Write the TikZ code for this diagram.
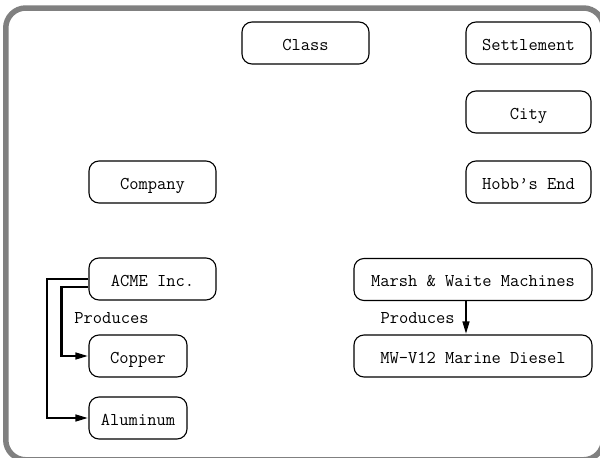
\documentclass[tikz,border=0pt]{standalone}
\usetikzlibrary{arrows.meta}
\begin{document}
\begin{tikzpicture}[x=1pt,y=-1pt,
  entity/.style={draw, line width=1.1pt, rounded corners=10pt, minimum height=42pt,
    inner sep=0pt, text height=14.8pt, text depth=0pt, font=\fontsize{18pt}{20pt}\ttfamily},
  link/.style={line width=2.6pt, -{Triangle[length=13pt,width=6.5pt]}},
  tag/.style={inner sep=0pt, font=\fontsize{18pt}{20pt}\ttfamily}]
\useasboundingbox (0,0) rectangle (600,458);
% outer frame, running past the right and lower edges of the page
\draw[gray, line width=5.5pt, rounded corners=20pt] (5.75,8) rectangle (603.5,459.8);
% entities
\node[entity, minimum width=127pt] (class)      at (305.5,43)  {Class};
\node[entity, minimum width=125pt] (settlement) at (528.5,43)  {Settlement};
\node[entity, minimum width=125pt] (city)       at (528.5,112) {City};
\node[entity, minimum width=125pt] (hobbs)      at (528.5,182) {Hobb\textquoteright s End};
\node[entity, minimum width=127pt] (company)    at (152.5,182) {Company};
\node[entity, minimum width=127pt] (acme)       at (152.5,279) {ACME Inc.};
\node[entity, minimum width=98pt]  (copper)     at (138,356)   {Copper};
\node[entity, minimum width=98pt]  (aluminum)   at (138,418)   {Aluminum};
\node[entity, minimum width=238pt] (marsh)      at (473,279.5) {Marsh \& Waite Machines};
\node[entity, minimum width=238pt] (diesel)     at (473,356)   {MW-V12 Marine Diesel};
% relations
\draw[link] ([yshift=-8pt]acme.west) -- ++(-27,0) |- (copper.west);
\draw[link] (acme.west) -- ++(-41.5,0) |- (aluminum.west);
\node[tag] (prodacme) at (111.5,318) {Produces};
\draw[link] ([xshift=-7pt]marsh.south) -- node[tag, left=10pt] (prodmarsh) {Produces} ([xshift=-7pt]diesel.north);
\end{tikzpicture}
\end{document}
